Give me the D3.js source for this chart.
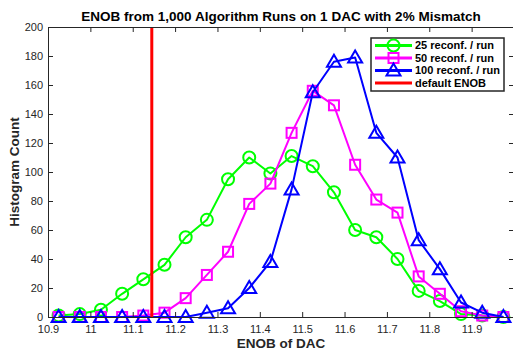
<!DOCTYPE html>
<html>
<head>
<meta charset="utf-8">
<script src="https://cdn.jsdelivr.net/npm/d3@7"></script>
<style>
  body { margin: 0; background: #fff; }
  text { font-family: "Liberation Sans", Arial, sans-serif; }
</style>
</head>
<body>
<div id="chart"></div>
<script>
// Bin centres (ENOB) and histogram counts for each run setting
var binCenters = [10.925, 10.975, 11.025, 11.075, 11.125, 11.175, 11.225, 11.275, 11.325, 11.375, 11.425,
                  11.475, 11.525, 11.575, 11.625, 11.675, 11.725, 11.775, 11.825, 11.875, 11.925, 11.975];
var counts25  = [1, 2, 5, 16, 26, 36, 55, 67, 95, 110, 99, 111, 104, 86, 60, 55, 40, 18, 11, 2, 1, 0];
var counts50  = [0, 0, 0, 0, 1, 3, 13, 29, 45, 78, 92, 127, 156, 146, 105, 81, 72, 28, 16, 4, 1, 0];
var counts100 = [0, 0, 0, 0, 0, 0, 0, 3, 6, 20, 38, 88, 155, 176, 179, 127, 110, 53, 33, 10, 3, 0];
var defaultEnob = 11.145;
var xTicks = [10.9, 11, 11.1, 11.2, 11.3, 11.4, 11.5, 11.6, 11.7, 11.8, 11.9];
var yTicks = [0, 20, 40, 60, 80, 100, 120, 140, 160, 180, 200];
var seriesNames = ["25 reconf. / run", "50 reconf. / run", "100 reconf. / run", "default ENOB"];

var width = 513, height = 351;
var margin = {left: 48, top: 27, bottom: 34};
var axisColor = "#262626";

var svg = d3.select("#chart").append("svg")
    .attr("width", width)
    .attr("height", height);

// x axis runs to 12, which falls just past the right edge of the picture
var x = d3.scaleLinear().domain([10.9, 12]).range([margin.left, margin.left + 466]);
var y = d3.scaleLinear().domain([0, 200]).range([height - margin.bottom, margin.top]);

var series = [
    {name: seriesNames[0], values: counts25, color: "#00ff00", marker: "circle"},
    {name: seriesNames[1], values: counts50, color: "#ff00ff", marker: "square"},
    {name: seriesNames[2], values: counts100, color: "#0000ff", marker: "triangle"}
];

// marker drawing helper
function drawMarker(g, type, cx, cy, color) {
    if (type == "circle") {
        g.append("circle").attr("cx", cx).attr("cy", cy).attr("r", 6)
            .attr("fill", "none").attr("stroke", color).attr("stroke-width", 2);
    } else if (type == "square") {
        g.append("rect").attr("x", cx - 5).attr("y", cy - 5).attr("width", 10).attr("height", 10)
            .attr("fill", "none").attr("stroke", color).attr("stroke-width", 2);
    } else {
        g.append("path")
            .attr("d", "M" + cx + "," + (cy - 7) + "L" + (cx + 7) + "," + (cy + 5) + "L" + (cx - 7) + "," + (cy + 5) + "Z")
            .attr("fill", "none").attr("stroke", color).attr("stroke-width", 2);
    }
}

var line = d3.line()
    .x(d => x(d[0]))
    .y(d => y(d[1]));

series.forEach(function(s) {
    var pts = binCenters.map((c, i) => [c, s.values[i]]);
    var g = svg.append("g");
    g.append("path")
        .attr("d", line(pts))
        .attr("fill", "none")
        .attr("stroke", s.color)
        .attr("stroke-width", 2)
        .attr("stroke-linejoin", "round");
    pts.forEach(p => drawMarker(g, s.marker, x(p[0]), y(p[1]), s.color));
});

// default ENOB vertical line
svg.append("line")
    .attr("x1", x(defaultEnob)).attr("x2", x(defaultEnob))
    .attr("y1", y(0)).attr("y2", y(200))
    .attr("stroke", "#ff0000")
    .attr("stroke-width", 3);

// Axes (MATLAB-like box with inward ticks)
var xAxisB = d3.axisBottom(x).tickValues(xTicks).tickSizeInner(-5).tickSizeOuter(0).tickPadding(8)
    .tickFormat(d3.format("~g"));
var xAxisT = d3.axisTop(x).tickValues(xTicks).tickSizeInner(-5).tickSizeOuter(0).tickFormat("");
var yAxisL = d3.axisLeft(y).tickValues(yTicks).tickSizeInner(-5).tickSizeOuter(0).tickPadding(5);
var yAxisR = d3.axisRight(y).tickValues(yTicks).tickSizeInner(-5).tickSizeOuter(0).tickFormat("");

function styleAxis(g) {
    g.selectAll("path, line").attr("stroke", axisColor);
    g.selectAll("text").attr("fill", axisColor).style("font-size", "11px")
        .style("font-family", "'Liberation Sans', Arial, sans-serif");
}

svg.append("g").attr("transform", "translate(0," + y(0) + ")").call(xAxisB).call(styleAxis);
svg.append("g").attr("transform", "translate(0," + y(200) + ")").call(xAxisT).call(styleAxis);
svg.append("g").attr("transform", "translate(" + x(10.9) + ",0)").call(yAxisL).call(styleAxis);
svg.append("g").attr("transform", "translate(" + x(12) + ",0)").call(yAxisR).call(styleAxis);

// Title and axis labels
svg.append("text")
    .attr("x", (x(10.9) + x(12)) / 2)
    .attr("y", 21)
    .attr("text-anchor", "middle")
    .style("font-size", "13.5px")
    .style("font-weight", "bold")
    .attr("fill", "#000")
    .text("ENOB from 1,000 Algorithm Runs on 1 DAC with 2% Mismatch");

svg.append("text")
    .attr("x", (x(10.9) + x(12)) / 2)
    .attr("y", 348)
    .attr("text-anchor", "middle")
    .style("font-size", "13.5px")
    .style("font-weight", "bold")
    .attr("fill", axisColor)
    .text("ENOB of DAC");

svg.append("text")
    .attr("transform", "translate(19," + y(100) + ")rotate(-90)")
    .attr("text-anchor", "middle")
    .style("font-size", "13.5px")
    .style("font-weight", "bold")
    .attr("fill", axisColor)
    .text("Histogram Count");

// Legend
var legend = svg.append("g").attr("transform", "translate(371,38)");
legend.append("rect")
    .attr("width", 133).attr("height", 53)
    .attr("fill", "#fff")
    .attr("stroke", axisColor)
    .attr("stroke-width", 1.5);

var legendItems = series.concat([{name: seriesNames[3], color: "#ff0000", marker: null}]);
legendItems.forEach(function(s, i) {
    var ly = 7.5 + i * 12.5;
    var g = legend.append("g");
    g.append("line")
        .attr("x1", 4).attr("x2", 41).attr("y1", ly).attr("y2", ly)
        .attr("stroke", s.color).attr("stroke-width", 3);
    if (s.marker) drawMarker(g, s.marker, 22.5, ly, s.color);
    g.append("text")
        .attr("x", 44).attr("y", ly).attr("dy", "0.35em")
        .style("font-size", "11px")
        .style("font-weight", "bold")
        .attr("fill", "#000")
        .text(s.name);
});
</script>
</body>
</html>
